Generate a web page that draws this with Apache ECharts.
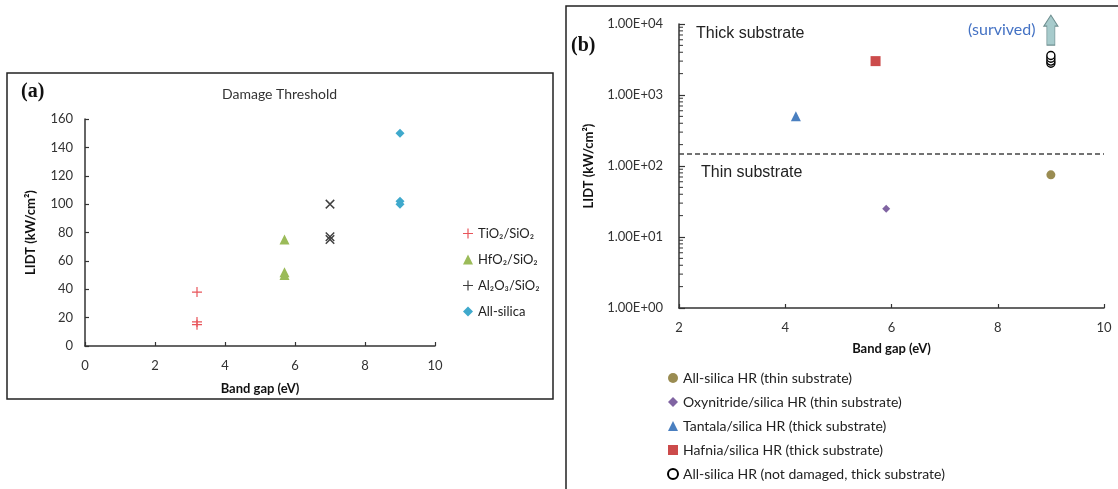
<!DOCTYPE html>
<html>
<head>
<meta charset="utf-8">
<script src="https://cdn.jsdelivr.net/npm/echarts@6/dist/echarts.min.js"></script>
<style>
  html, body { margin: 0; padding: 0; background: #fff; }
  #chart { width: 1118px; height: 489px; }
</style>
</head>
<body>
<div id="chart"></div>
<script>
// (a) linear chart: band gap (eV) vs LIDT (kW/cm2)
const tio2 = [[3.2, 38], [3.2, 17], [3.2, 15]]
const hfo2 = [[5.7, 75], [5.7, 52], [5.7, 50]]
const al2o3 = [[7, 100], [7, 77], [7, 75]]
const allSilica = [[9, 150], [9, 102], [9, 100]]

// (b) log chart
const silicaThin = [[9, 75]]
const oxyThin = [[5.9, 25]]
const tantalaThick = [[4.2, 500]]
const hafniaThick = [[5.7, 3000]]
const silicaSurvived = [[9, 2800], [9, 3000], [9, 3300], [9, 3600]]
const substrateLimit = 150
const arrowAt = [9, 8200]

// excel style minor ticks on the log axis (2..9 in each decade)
const decades = [1, 10, 100, 1000]
const minorSteps = [2, 3, 4, 5, 6, 7, 8, 9]
const minorTickValues = []
decades.forEach(d => minorSteps.forEach(s => minorTickValues.push(d * s)))

const leftNames = ['TiO₂/SiO₂', 'HfO₂/SiO₂', 'Al₂O₃/SiO₂', 'All-silica']
const rightNames = [
  'All-silica HR (thin substrate)',
  'Oxynitride/silica HR (thin substrate)',
  'Tantala/silica HR (thick substrate)',
  'Hafnia/silica HR (thick substrate)',
  'All-silica HR (not damaged, thick substrate)'
]

const plus = 'path://M4.4,0H5.6V4.4H10V5.6H5.6V10H4.4V5.6H0V4.4H4.4Z'
const arrow = 'path://M3,30V11H0L7,0L14,11H11V30Z'
const font = 'Lato'

const expLabel = v => {
  const e = Math.round(Math.log10(v))
  return '1.00E+' + (e < 10 ? '0' + e : e)
}

const axisBase = {
  axisLine: { show: true, lineStyle: { color: '#333', width: 1.5 } },
  axisTick: { show: true, inside: true, length: 4, lineStyle: { color: '#333', width: 1.2 } },
  splitLine: { show: false },
  axisLabel: { color: '#333', fontSize: 13, fontFamily: font },
  nameTextStyle: { color: '#111', fontSize: 13, fontWeight: 'bold', fontFamily: font }
}

const chart = echarts.init(document.getElementById('chart'), null, { renderer: 'canvas' })

chart.setOption({
  animation: false,
  textStyle: { fontFamily: font },
  grid: [
    { left: 85, top: 119, width: 350, height: 227 },
    { left: 679, top: 24, width: 425, height: 284 }
  ],
  xAxis: [
    Object.assign({}, axisBase, {
      gridIndex: 0, type: 'value', min: 0, max: 10, interval: 2,
      name: 'Band gap (eV)', nameLocation: 'middle', nameGap: 36,
      axisLabel: Object.assign({}, axisBase.axisLabel, { margin: 13 })
    }),
    Object.assign({}, axisBase, {
      gridIndex: 1, type: 'value', min: 2, max: 10, interval: 2,
      name: 'Band gap (eV)', nameLocation: 'middle', nameGap: 34,
      axisLabel: Object.assign({}, axisBase.axisLabel, { margin: 13 })
    })
  ],
  yAxis: [
    Object.assign({}, axisBase, {
      gridIndex: 0, type: 'value', min: 0, max: 160, interval: 20,
      name: 'LIDT (kW/cm²)', nameLocation: 'middle', nameGap: 48,
      axisLabel: Object.assign({}, axisBase.axisLabel, { margin: 12 })
    }),
    Object.assign({}, axisBase, {
      gridIndex: 1, type: 'log', logBase: 10, min: 1, max: 10000,
      name: 'LIDT (kW/cm²)', nameLocation: 'middle', nameGap: 84,
      axisTick: { show: true, inside: true, length: 6, lineStyle: { color: '#333', width: 1.2 } },
      axisLabel: Object.assign({}, axisBase.axisLabel, { margin: 16, formatter: expLabel })
    })
  ],
  legend: [
    {
      data: leftNames, orient: 'vertical', left: 458, top: 222,
      itemGap: 13, itemWidth: 10, itemHeight: 10,
      textStyle: { fontSize: 13, color: '#222', fontFamily: font }
    },
    {
      data: rightNames, orient: 'vertical', left: 662, top: 366,
      itemGap: 10, itemWidth: 10, itemHeight: 10,
      textStyle: { fontSize: 14, color: '#222', fontFamily: font }
    }
  ],
  series: [
    { name: leftNames[0], type: 'scatter', xAxisIndex: 0, yAxisIndex: 0, data: tio2,
      symbol: plus, symbolSize: 10, itemStyle: { color: '#e8555b', opacity: 1 } },
    { name: leftNames[1], type: 'scatter', xAxisIndex: 0, yAxisIndex: 0, data: hfo2,
      symbol: 'triangle', symbolSize: 10, itemStyle: { color: '#9bbb59', opacity: 1 } },
    { name: leftNames[2], type: 'scatter', xAxisIndex: 0, yAxisIndex: 0, data: al2o3,
      symbol: plus, symbolRotate: 45, symbolSize: 12, itemStyle: { color: '#404040', opacity: 1 } },
    { name: leftNames[3], type: 'scatter', xAxisIndex: 0, yAxisIndex: 0, data: allSilica,
      symbol: 'diamond', symbolSize: 9, itemStyle: { color: '#3fa9cc', opacity: 1 } },

    { name: rightNames[0], type: 'scatter', xAxisIndex: 1, yAxisIndex: 1, data: silicaThin,
      symbol: 'circle', symbolSize: 9, itemStyle: { color: '#9a8c52', opacity: 1 } },
    { name: rightNames[1], type: 'scatter', xAxisIndex: 1, yAxisIndex: 1, data: oxyThin,
      symbol: 'diamond', symbolSize: 8, itemStyle: { color: '#8064a2', opacity: 1 } },
    { name: rightNames[2], type: 'scatter', xAxisIndex: 1, yAxisIndex: 1, data: tantalaThick,
      symbol: 'triangle', symbolSize: 10, itemStyle: { color: '#4a7fc0', opacity: 1 },
      markLine: {
        silent: true, symbol: 'none', label: { show: false },
        lineStyle: { type: [5, 3], color: '#444', width: 1.5 },
        data: [[{ coord: [2, substrateLimit] }, { coord: [10, substrateLimit] }]]
      } },
    { name: rightNames[3], type: 'scatter', xAxisIndex: 1, yAxisIndex: 1, data: hafniaThick,
      symbol: 'rect', symbolSize: 10, itemStyle: { color: '#cc4b4b', opacity: 1 } },
    { name: rightNames[4], type: 'scatter', xAxisIndex: 1, yAxisIndex: 1, data: silicaSurvived,
      symbol: 'circle', symbolSize: 8,
      itemStyle: { color: '#fff', borderColor: '#000', borderWidth: 1.4, opacity: 1 },
      markPoint: {
        silent: true, symbol: arrow, symbolSize: [14, 30],
        itemStyle: { color: '#a7cbcc', borderColor: '#6f8f90', borderWidth: 1 },
        label: { show: true, position: 'left', distance: 8, formatter: '(survived)',
                 color: '#4472c4', fontSize: 16, fontFamily: font },
        data: [{ coord: arrowAt }]
      } },
    // minor ticks drawn through the log scale
    { type: 'custom', xAxisIndex: 1, yAxisIndex: 1, silent: true, clip: false,
      data: minorTickValues.map(v => [2, v]),
      encode: { x: 0, y: 1 },
      renderItem: (params, api) => {
        const p = api.coord([api.value(0), api.value(1)])
        return { type: 'line', shape: { x1: p[0], y1: p[1], x2: p[0] + 4, y2: p[1] },
                 style: { stroke: '#333', lineWidth: 1 } }
      } }
  ],
  graphic: [
    { type: 'rect', shape: { x: 7, y: 73, width: 546, height: 326 },
      style: { fill: 'none', stroke: '#222', lineWidth: 1.5 }, silent: true },
    { type: 'rect', shape: { x: 566, y: 6, width: 600, height: 520 },
      style: { fill: 'none', stroke: '#222', lineWidth: 1.5 }, silent: true },
    { type: 'text', left: 21, top: 82,
      style: { text: '(a)', font: 'bold 20px "Liberation Serif"', fill: '#111' } },
    { type: 'text', left: 571, top: 36,
      style: { text: '(b)', font: 'bold 20px "Liberation Serif"', fill: '#111' } },
    { type: 'text', left: 222, top: 87,
      style: { text: 'Damage Threshold', font: '14px Lato', fill: '#333' } },
    { type: 'text', left: 696, top: 26,
      style: { text: 'Thick substrate', font: '16px "Liberation Sans"', fill: '#222' } },
    { type: 'text', left: 701, top: 165,
      style: { text: 'Thin substrate', font: '16px "Liberation Sans"', fill: '#222' } }
  ]
})
</script>
</body>
</html>
